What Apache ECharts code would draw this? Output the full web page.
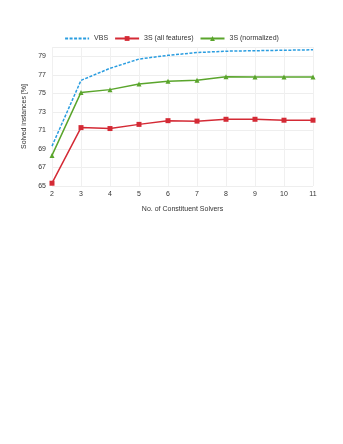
<!DOCTYPE html>
<html>
<head>
<meta charset="utf-8">
<script src="https://cdn.jsdelivr.net/npm/echarts@6/dist/echarts.min.js"></script>
<style>
html,body{margin:0;padding:0;background:#fff;}
#main{width:343px;height:444px;}
</style>
</head>
<body>
<div id="main"></div>
<script>
// 数据
var categories = ['2', '3', '4', '5', '6', '7', '8', '9', '10', '11'];
var vbs = [69.3, 76.4, 77.7, 78.7, 79.1, 79.4, 79.55, 79.6, 79.65, 79.7];
var allFeatures = [65.3, 71.3, 71.2, 71.65, 72.05, 72.0, 72.2, 72.2, 72.1, 72.1];
var normalized = [68.3, 75.1, 75.4, 76.0, 76.3, 76.4, 76.8, 76.75, 76.75, 76.75];
var seriesNames = ['VBS', '3S (all features)', '3S (normalized)'];

var myChart = echarts.init(document.getElementById('main'));

var option = {
    animation: false,
    textStyle: {fontFamily: 'Liberation Sans'},
    legend: {
        top: 30,
        left: 'center',
        itemWidth: 24,
        itemHeight: 6,
        itemGap: 6,
        textStyle: {fontSize: 7, color: '#333'},
        data: [
            {name: seriesNames[0], itemStyle: {opacity: 0}},
            seriesNames[1],
            seriesNames[2]
        ]
    },
    grid: {left: 52, right: 30, top: 47, bottom: 258},
    xAxis: {
        type: 'category',
        boundaryGap: false,
        data: categories,
        name: 'No. of Constituent Solvers',
        nameLocation: 'middle',
        nameGap: 20,
        nameTextStyle: {fontSize: 7, color: '#333'},
        axisLine: {show: false},
        axisTick: {show: false},
        axisLabel: {fontSize: 7, color: '#333', margin: 5},
        splitLine: {show: true, lineStyle: {color: '#f0f0f0', width: 1}}
    },
    yAxis: {
        type: 'value',
        min: 65,
        max: 80,
        interval: 2,
        name: 'Solved instances [%]',
        nameLocation: 'middle',
        nameGap: 15,
        nameTextStyle: {fontSize: 7, color: '#333'},
        axisLine: {show: false},
        axisTick: {show: false},
        axisLabel: {fontSize: 7, color: '#333', margin: 6, showMaxLabel: false},
        splitLine: {lineStyle: {color: '#eeeeee', width: 1}}
    },
    series: [{
        name: seriesNames[0],
        type: 'line',
        data: vbs,
        symbol: 'none',
        lineStyle: {color: '#2a9de0', width: 1.5, type: [3, 1.5]},
        itemStyle: {color: '#2a9de0'}
    }, {
        name: seriesNames[1],
        type: 'line',
        data: allFeatures,
        symbol: 'rect',
        symbolSize: 5,
        lineStyle: {color: '#d42a35', width: 1.5},
        itemStyle: {color: '#d42a35'}
    }, {
        name: seriesNames[2],
        type: 'line',
        data: normalized,
        symbol: 'triangle',
        symbolSize: 5,
        lineStyle: {color: '#5aa52c', width: 1.5},
        itemStyle: {color: '#5aa52c'}
    }]
};

myChart.setOption(option);
</script>
</body>
</html>
